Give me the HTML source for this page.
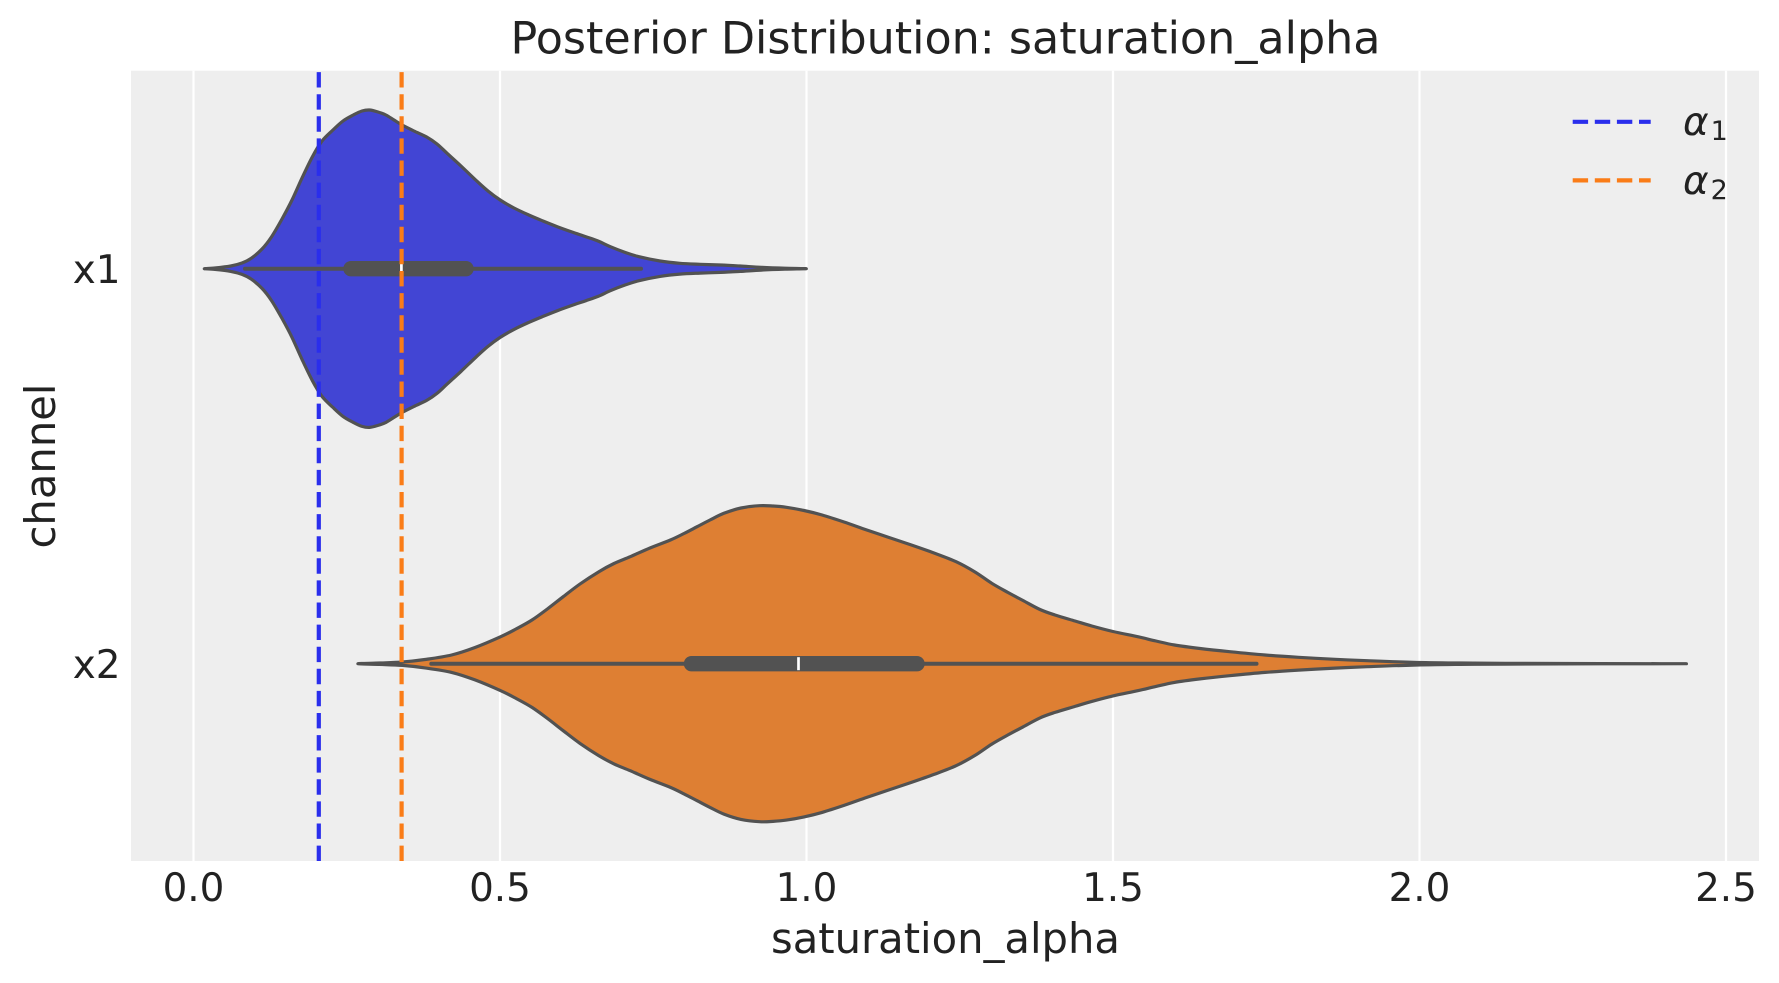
<!DOCTYPE html>
<html><head><meta charset="utf-8"><style>
html,body{margin:0;padding:0;background:#fff;}
svg{display:block;}
text{font-family:"DejaVu Sans","Liberation Sans",sans-serif;fill:#222222;}
</style></head><body>
<svg id="chart" width="1779" height="983" viewBox="0 0 1779 983" xmlns="http://www.w3.org/2000/svg">
<rect x="0" y="0" width="1779" height="983" fill="#ffffff"/>
<rect x="131" y="70.7" width="1628" height="790.3" fill="#eeeeee"/>
<g stroke="#ffffff" stroke-width="2.2">
<line x1="193.5" y1="70.7" x2="193.5" y2="861"/>
<line x1="500" y1="70.7" x2="500" y2="861"/>
<line x1="806.5" y1="70.7" x2="806.5" y2="861"/>
<line x1="1113" y1="70.7" x2="1113" y2="861"/>
<line x1="1419.5" y1="70.7" x2="1419.5" y2="861"/>
<line x1="1726" y1="70.7" x2="1726" y2="861"/>
</g>

<polygon class="vio" fill="#4245d4" stroke="#525252" stroke-width="3.2" stroke-linejoin="round" points="
204.3,268.7 215,268 230.8,266 242,263 251.2,258.3 262,249 271.6,236.7 282,219 292,200 302,178 312.4,156.7 322,141 332.9,130 343,121 353.3,115 362,111 369.6,110 378,112 385.9,115 394,120 402.2,125 414,131 426.7,137 437,144 447.1,153.3 461,166 475.7,180 488,191 500.2,200 514,208 528.8,215 543,221 557.3,226.7 572,232 585.9,236.7 598,241 610.4,246.7 624,252 639,256.7 660,261 679.8,263.3 700,264.3 720.6,265 740,266 761.4,267.3 785,268.2 806.3,268.7
785,269.2 761.4,270.1 740,271.4 720.6,272.4 700,273.1 679.8,274.1 660,276.4 639,280.7 624,285.4 610.4,290.7 598,296.4 585.9,300.7 572,305.4 557.3,310.7 543,316.4 528.8,322.4 514,329.4 500.2,337.4 488,346.4 475.7,357.4 461,371.4 447.1,384.1 437,393.4 426.7,400.4 414,406.4 402.2,412.4 394,417.4 385.9,422.4 378,425.4 369.6,427.4 362,426.4 353.3,422.4 343,416.4 332.9,407.4 322,396.4 312.4,380.7 302,359.4 292,337.4 282,318.4 271.6,300.7 262,288.4 251.2,279.1 242,274.4 230.8,271.4 215,269.4"/>

<polygon class="vio" fill="#de7f33" stroke="#525252" stroke-width="3.2" stroke-linejoin="round" points="
357.9,663.7 380,663 402.5,662 425,659.5 451.6,655 475,647.5 500.7,636.7 516,629 532,620 548,608.5 563.2,596.7 580,584 598.9,571.7 614,563.5 630.2,556.7 650,548 670.4,540 684,533.5 697.1,526.7 710,520 723.9,513.3 741,508 759.6,505.7 773,506 786.4,507.3 804,510.5 822.1,515 844,522 866.8,530 889,537.5 911.4,545 934,553 956.1,561.7 975,572 991.8,583.3 1008,592.5 1023,600.5 1040,609.5 1055,615 1075,621 1091.8,626 1113,631.5 1137.7,636.7 1156,641 1174.5,645 1200,648.5 1229.6,651.7 1265,655 1298.4,657.3 1335,659.3 1367.3,660.7 1413.2,662.3 1460,663 1505,663.3 1600,663.6 1686.4,663.7
1600,663.8 1505,664.1 1460,664.4 1413.2,665.1 1367.3,666.7 1335,668.1 1298.4,670.1 1265,672.4 1229.6,675.7 1200,678.9 1174.5,682.4 1156,686.4 1137.7,690.7 1113,695.9 1091.8,701.4 1075,706.4 1055,712.4 1040,717.9 1023,726.9 1008,734.9 991.8,744.1 975,755.4 956.1,765.7 934,774.4 911.4,782.4 889,789.9 866.8,797.4 844,805.4 822.1,812.4 804,816.9 786.4,820.1 773,821.4 759.6,821.7 741,819.4 723.9,814.1 710,807.4 697.1,800.7 684,793.9 670.4,787.4 650,779.4 630.2,770.7 614,763.9 598.9,755.7 580,743.4 563.2,730.7 548,718.9 532,707.4 516,698.4 500.7,690.7 475,679.9 451.6,672.4 425,667.9 402.5,665.4 380,664.4"/>

<g stroke="#525252" stroke-linecap="round">
<line x1="245" y1="268.7" x2="641" y2="268.7" stroke-width="4"/>
<line x1="351" y1="268.7" x2="466" y2="268.7" stroke-width="15.4"/>
<line x1="431.3" y1="663.7" x2="1256.5" y2="663.7" stroke-width="4"/>
<line x1="691.5" y1="663.7" x2="917" y2="663.7" stroke-width="15.4"/>
</g>
<line x1="401.4" y1="261.5" x2="401.4" y2="276" stroke="#ffffff" stroke-width="2.7"/>
<line x1="798.5" y1="657.2" x2="798.5" y2="670.2" stroke="#ffffff" stroke-width="2.7"/>

<line x1="318.8" y1="861" x2="318.8" y2="70.7" stroke="#2a2eec" stroke-width="4.2" stroke-dasharray="15.4 6.7"/>
<line x1="401.6" y1="861" x2="401.6" y2="70.7" stroke="#fa7c17" stroke-width="4.2" stroke-dasharray="15.4 6.7"/>

<line x1="1572.7" y1="121.8" x2="1650.7" y2="121.8" stroke="#2a2eec" stroke-width="4.2" stroke-dasharray="15.4 6.7"/>
<line x1="1572.7" y1="180.4" x2="1650.7" y2="180.4" stroke="#fa7c17" stroke-width="4.2" stroke-dasharray="15.4 6.7"/>
<text x="1683" y="135.2" font-size="38.9" font-style="italic">α<tspan font-style="normal" font-size="27" dy="5" dx="2">1</tspan></text>
<text x="1683" y="193.8" font-size="38.9" font-style="italic">α<tspan font-style="normal" font-size="27" dy="5" dx="2">2</tspan></text>

<text x="945.5" y="53.3" font-size="44.4" text-anchor="middle">Posterior Distribution: saturation_alpha</text>

<g font-size="38.9" text-anchor="middle">
<text x="193.5" y="901">0.0</text>
<text x="500" y="901">0.5</text>
<text x="806.5" y="901">1.0</text>
<text x="1113" y="901">1.5</text>
<text x="1419.5" y="901">2.0</text>
<text x="1726" y="901">2.5</text>
</g>
<g font-size="38.9" text-anchor="end">
<text x="120.5" y="282.9">x1</text>
<text x="120.5" y="677.9">x2</text>
</g>
<text x="945.5" y="953" font-size="41.7" text-anchor="middle">saturation_alpha</text>
<text transform="translate(55,466) rotate(-90)" font-size="41.7" text-anchor="middle">channel</text>
</svg>
<script>
(function(){
  var ns="http://www.w3.org/2000/svg";
  var polys=document.querySelectorAll("polygon.vio");
  for(var k=0;k<polys.length;k++){
    var pg=polys[k];
    var raw=pg.getAttribute("points").trim().split(/\s+/);
    var p=[];
    for(var i=0;i<raw.length;i++){var c=raw[i].split(",");p.push([+c[0],+c[1]]);}
    var n=p.length;
    var d="M"+p[0][0]+","+p[0][1];
    for(var i=0;i<n;i++){
      var p0=p[(i-1+n)%n],p1=p[i],p2=p[(i+1)%n],p3=p[(i+2)%n];
      var c1x=p1[0]+(p2[0]-p0[0])/6,c1y=p1[1]+(p2[1]-p0[1])/6;
      var c2x=p2[0]-(p3[0]-p1[0])/6,c2y=p2[1]-(p3[1]-p1[1])/6;
      d+="C"+c1x.toFixed(2)+","+c1y.toFixed(2)+" "+c2x.toFixed(2)+","+c2y.toFixed(2)+" "+p2[0]+","+p2[1];
    }
    d+="Z";
    var path=document.createElementNS(ns,"path");
    path.setAttribute("d",d);
    path.setAttribute("fill",pg.getAttribute("fill"));
    path.setAttribute("stroke",pg.getAttribute("stroke"));
    path.setAttribute("stroke-width",pg.getAttribute("stroke-width"));
    path.setAttribute("stroke-linejoin","round");
    pg.parentNode.replaceChild(path,pg);
  }
})();
</script>
</body></html>
